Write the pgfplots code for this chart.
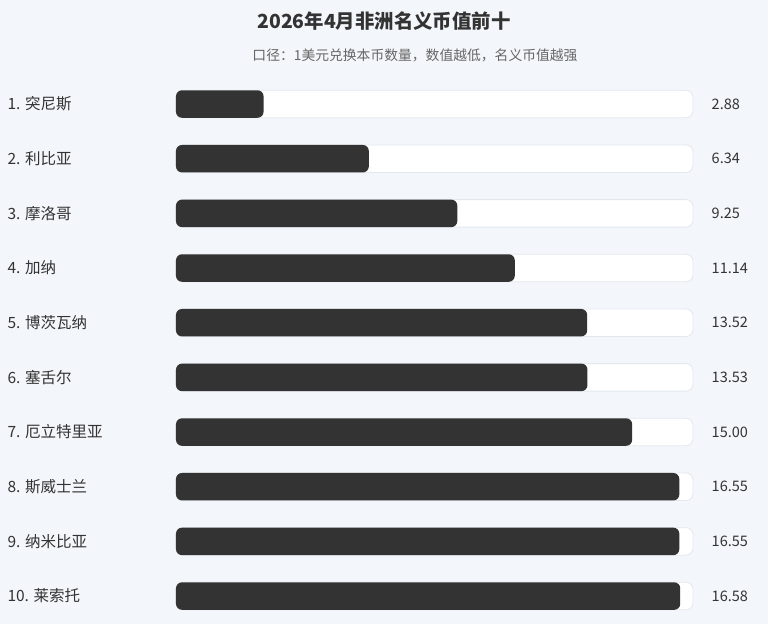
\documentclass[border=0pt]{standalone}
\usepackage{pgfplots}
\pgfplotsset{compat=1.18}
\usepackage{fontspec}
\setmainfont{Noto Sans CJK SC}
\definecolor{bgc}{HTML}{F3F6FA}
\definecolor{barc}{HTML}{333333}
\definecolor{trackline}{HTML}{E3E8EE}
\definecolor{txt}{HTML}{333333}
\definecolor{subtxt}{HTML}{666666}
\begin{document}
\begin{tikzpicture}
  \useasboundingbox (0,0) rectangle (768pt,624pt);
  \fill[bgc] (0,0) rectangle (768pt,624pt);
  \node[anchor=center, text=txt, font=\fontsize{19.4}{22}\selectfont\bfseries] at (384pt,603pt) {2026年4月非洲名义币值前十};
  \node[anchor=center, text=subtxt, font=\fontsize{13.8}{16}\selectfont] at (415pt,569pt) {口径：1美元兑换本币数量，数值越低，名义币值越强};
  \begin{axis}[
    at={(176pt,0.6pt)},
    anchor=south west,
    scale only axis,
    width=517pt,
    height=546.7pt,
    xmin=0, xmax=17,
    ymin=-0.5, ymax=9.5,
    y dir=reverse,
    axis line style={draw=none},
    tick style={draw=none},
    xtick=\empty,
    clip=false,
    ytick={0,...,9},
    yticklabels={1. 突尼斯, 2. 利比亚, 3. 摩洛哥, 4. 加纳, 5. 博茨瓦纳, 6. 塞舌尔, 7. 厄立特里亚, 8. 斯威士兰, 9. 纳米比亚, 10. 莱索托},
    yticklabel style={anchor=west, xshift=-172pt, text=txt, font=\fontsize{15.5}{17}\selectfont},
    major tick length=0pt,
    xbar,
    bar width=27.5pt,
    bar shift=0pt,
  ]
    % tracks, carrying the value labels
    \addplot[fill=white, draw=trackline, line width=0.8pt, rounded corners=7pt,
      point meta=explicit symbolic,
      nodes near coords,
      every node near coord/.append style={anchor=west, xshift=15pt, text=txt, font=\fontsize{14.5}{16}\selectfont}]
      coordinates {(17,0) [2.88] (17,1) [6.34] (17,2) [9.25] (17,3) [11.14] (17,4) [13.52]
                   (17,5) [13.53] (17,6) [15.00] (17,7) [16.55] (17,8) [16.55] (17,9) [16.58]};
    % values
    \addplot[fill=barc, draw=none, rounded corners=6pt]
      coordinates {(2.88,0) (6.34,1) (9.25,2) (11.14,3) (13.52,4)
                   (13.53,5) (15.00,6) (16.55,7) (16.55,8) (16.58,9)};
  \end{axis}
\end{tikzpicture}
\end{document}
